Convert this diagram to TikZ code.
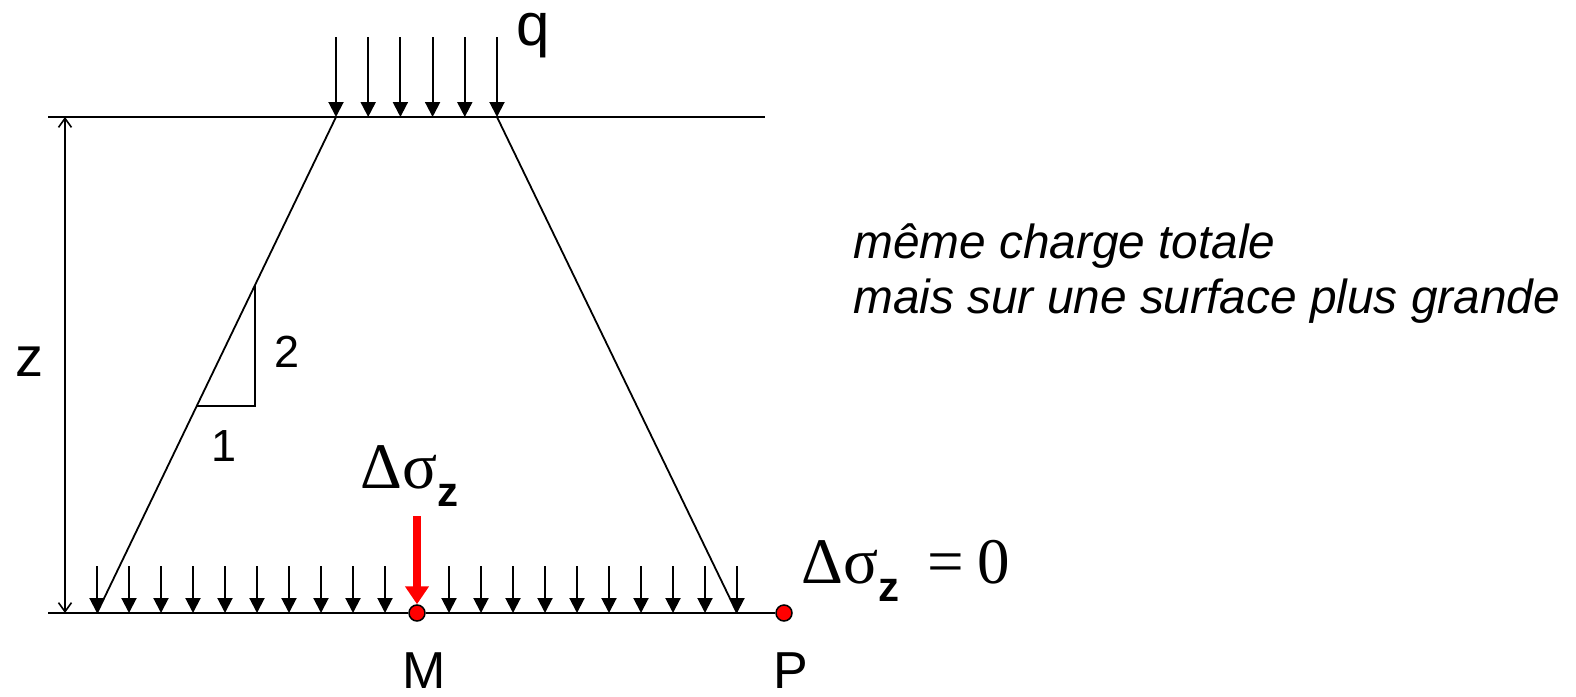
\documentclass[tikz,border=0pt]{standalone}
\usepackage{fontspec}
\setmainfont{Liberation Sans}
\newfontfamily\timesfont{Liberation Serif}
\usetikzlibrary{arrows.meta, positioning, calc}

\begin{document}
\begin{tikzpicture}[x=1pt, y=-1pt,
    charge/.style={-{Triangle[width=15pt,length=15pt]}, line width=2pt},
    cote/.style={{Straight Barb[width=13pt,length=9pt]}-{Straight Barb[width=13pt,length=9pt]}, line width=1.6pt},
    pointrouge/.style={circle, draw, line width=1.5pt, fill=red, inner sep=0pt, minimum size=16pt},
    etiq/.style={inner sep=0pt, font=\fontsize{52}{52}\selectfont}]
    \useasboundingbox (0,0) rectangle (1576,696);

    % points de la surface et du plan a la profondeur z
    \foreach \i in {0,...,5}
        \coordinate (q\i) at (336+32.2*\i,117);
    \foreach \k in {0,...,20}
        \coordinate (p\k) at (97+32*\k,613);
    \coordinate (s0) at (48,117);
    \coordinate (s1) at (765,117);
    \coordinate (b0) at (48,613);

    \node [pointrouge] (M) at (p10) {};
    \node [pointrouge] (P) at (784,613) {};

    % surfaces
    \draw [line width=2pt] (s0) -- (s1);
    \draw [line width=2pt] (b0) -- (M) -- (P);

    % diffusion 2:1
    \draw [line width=1.8pt] (q0) -- (p0);
    \draw [line width=1.8pt] (q5) -- (p20);
    \coordinate (t1) at ($(q0)!0.583!(p0)$);
    \coordinate (t3) at ($(q0)!0.339!(p0)$);
    \coordinate (t2) at (t3 |- t1);
    \draw [line width=1.6pt] (t1) -- (t2) -- (t3);
    \node [etiq, font=\fontsize{45}{45}\selectfont] (deux) at (287,352) {2};
    \node [etiq, font=\fontsize{45}{45}\selectfont] (un) at (224,446) {1};

    % charges
    \foreach \i in {0,...,5}
        \draw [charge] (q\i) ++(0,-80) coordinate (qh\i) -- (q\i);
    \foreach \k in {0,...,9,11,12,...,20}
        \draw [charge] (p\k) ++(0,-47) coordinate (ph\k) -- (p\k);
    \coordinate (rtop) at (417,516);
    \draw [red, line width=8pt, -{Triangle[width=23pt,length=18pt]}] (rtop) -- (M.north);

    % cote z
    \coordinate (z0) at (65,117);
    \coordinate (z1) at (65,613);
    \draw [cote] (z0) -- (z1);
    \node [etiq, font=\fontsize{56}{56}\selectfont] (z) at (29,362) {z};

    % textes
    \node [etiq, anchor=base, text height=30pt, font=\fontsize{60}{60}\selectfont] (q) at (533,45) {q};
    \node [etiq, anchor=base, text depth=0pt] (lM) at (424,688) {M};
    \node [etiq, anchor=base, text depth=0pt] (lP) at (791,688) {P};
    \node [etiq, anchor=base west] (dsig) at (360,488)
        {{\timesfont\fontsize{65}{65}\selectfont Δσ}\raisebox{-18pt}{\fontsize{42}{42}\selectfont\bfseries z}};
    \node [etiq, anchor=base west] (dsig0) at (801,583)
        {{\timesfont\fontsize{65}{65}\selectfont Δσ}\raisebox{-18pt}{\fontsize{42}{42}\selectfont\bfseries z}\hspace{28pt}{\timesfont\fontsize{65}{65}\selectfont =\hspace{14pt}0}};
    \node [etiq, anchor=base west, font=\fontsize{47.8}{47.8}\selectfont\itshape] (txt1) at (853,258) {même charge totale};
    \node [etiq, anchor=base west, font=\fontsize{47.8}{47.8}\selectfont\itshape] (txt2) at (853,313) {mais sur une surface plus grande};
\end{tikzpicture}
\end{document}
